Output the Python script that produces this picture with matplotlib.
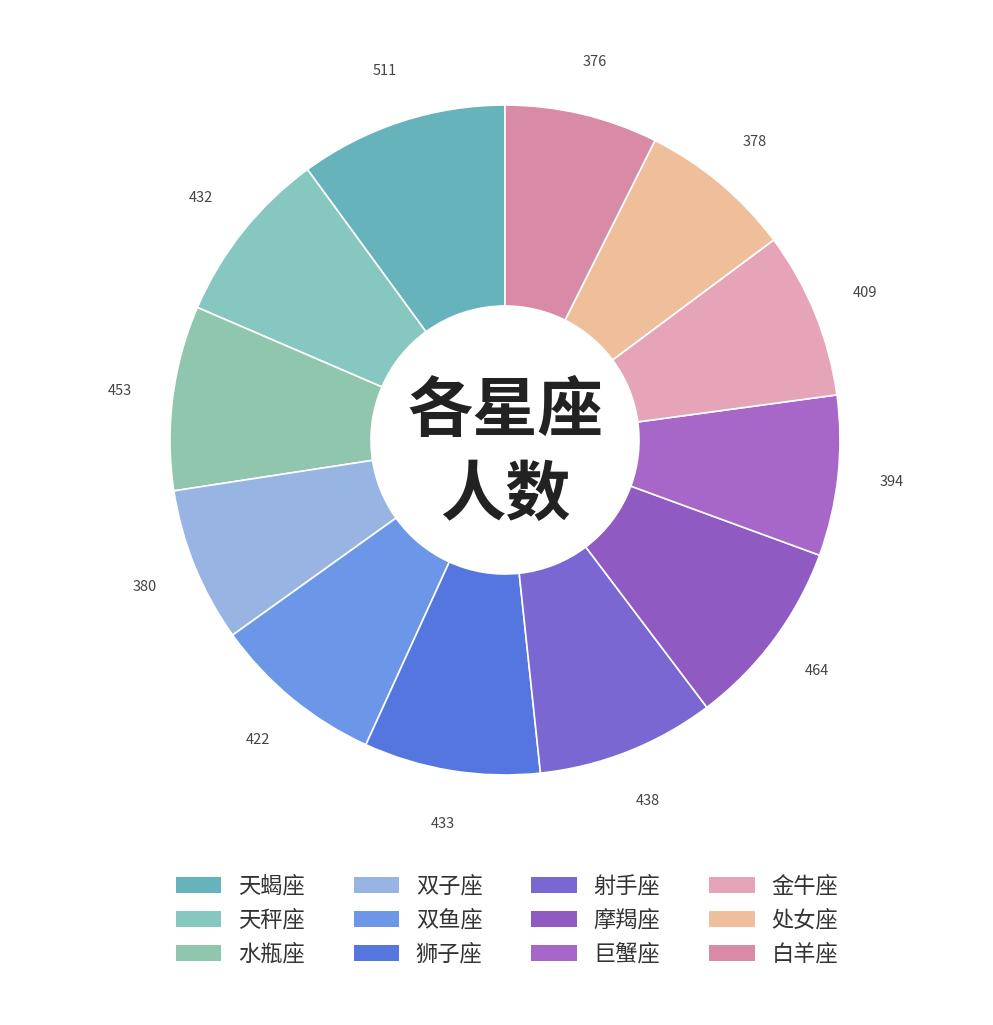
import numpy as np
import matplotlib.pyplot as plt

plt.rcParams['font.family'] = ['Noto Sans CJK SC', 'DejaVu Sans']

# 星座人数
signs = ['天蝎座', '天秤座', '水瓶座', '双子座', '双鱼座', '狮子座',
         '射手座', '摩羯座', '巨蟹座', '金牛座', '处女座', '白羊座']
counts = [511, 432, 453, 380, 422, 433, 438, 464, 394, 409, 378, 376]
colors = ['#66b3bb', '#86c8c0', '#8fc6ad', '#97b4e3', '#6c96e7', '#5676df',
          '#7b67d2', '#8f5ac2', '#a667c9', '#e5a4b7', '#efbf9b', '#d98aa7']

W, H = 993, 1025
fig = plt.figure(figsize=(W / 100, H / 100), dpi=100)
fig.patch.set_facecolor('white')

# 饼图区域: 圆心 (505, 440) px, 半径 335 px
cx, cy, r = 505, 440, 335
side = 820
ax = fig.add_axes([(cx - side / 2) / W, (H - cy - side / 2) / H, side / W, side / H])
lim = side / 2 / r

wedges, texts = ax.pie(counts, colors=colors, startangle=90, counterclock=True,
                       radius=1, labels=[str(c) for c in counts], labeldistance=1.16,
                       wedgeprops=dict(width=0.6, edgecolor='white', linewidth=1.2),
                       textprops=dict(fontsize=10.5, color='#444444'))
for t in texts:
    t.set_horizontalalignment('center')
    t.set_verticalalignment('center')

ax.set_xlim(-lim, lim)
ax.set_ylim(-lim, lim)
ax.set_aspect('equal')
ax.axis('off')

# 中心文字
ax.text(0, 0.085, '各星座', ha='center', va='center', fontsize=47, fontweight='bold', color='#222222')
ax.text(0, -0.165, '人数', ha='center', va='center', fontsize=47, fontweight='bold', color='#222222')

# 图例
handles = wedges
leg = fig.legend(handles, signs, ncol=4, loc='center', bbox_to_anchor=(507 / W, 1 - 920 / H),
                 frameon=False, fontsize=16, handlelength=2.05, handleheight=0.72,
                 handletextpad=0.75, columnspacing=2.2, labelspacing=0.5)
for h in leg.legend_handles:
    h.set_edgecolor('none')
for t in leg.get_texts():
    t.set_color('#333333')

fig.savefig('out.png', dpi=100, facecolor='white')
